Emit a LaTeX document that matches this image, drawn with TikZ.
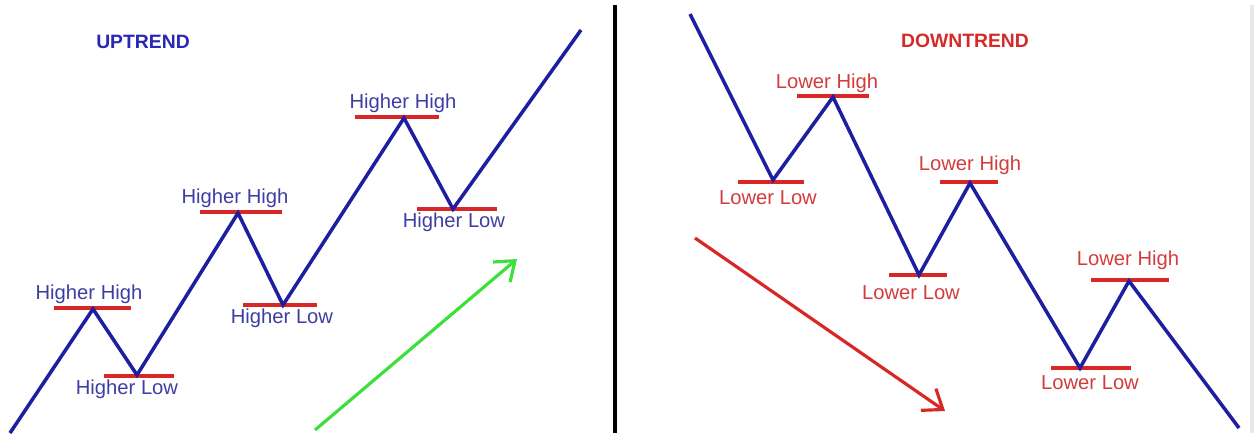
\documentclass[tikz,border=0pt]{standalone}
\usepackage{fontspec}
\setmainfont{Liberation Sans}
\usetikzlibrary{arrows.meta, positioning}

\definecolor{zigblue}{HTML}{1E1EA0}
\definecolor{levelred}{HTML}{D92626}
\definecolor{uptext}{HTML}{3E3EA2}
\definecolor{downtext}{HTML}{D23C3C}
\definecolor{titleblue}{HTML}{2828B4}
\definecolor{titlered}{HTML}{D42A2A}
\definecolor{arrowgreen}{HTML}{3BE03B}

\begin{document}
\begin{tikzpicture}[x=0.2mm, y=-0.2mm,
    zigzag/.style={draw=zigblue, line width=2pt, line join=miter},
    level/.style={draw=levelred, line width=2.3pt},
    uplabel/.style={text=uptext, font=\fontsize{11.5}{13}\selectfont, inner sep=0pt},
    downlabel/.style={text=downtext, font=\fontsize{11.5}{13}\selectfont, inner sep=0pt},
    trendtitle/.style={font=\fontsize{11}{13}\selectfont\bfseries, inner sep=0pt},
    trendarrow/.style={line width=1.8pt, -{Straight Barb[length=10pt, width=15pt, line width=1.8pt]}}]
  \useasboundingbox (0,0) rectangle (1257,433);

  % Divider and right border
  \coordinate (divtop) at (615,5);
  \coordinate (divbot) at (615,433);
  \draw[line width=2.2pt] (divtop) -- (divbot);
  \coordinate (edgetop) at (1252,5);
  \coordinate (edgebot) at (1252,433);
  \draw[gray!18, line width=2.6pt] (edgetop) -- (edgebot);

  % Titles
  \node[trendtitle, text=titleblue] (uptitle) at (143,42) {UPTREND};
  \node[trendtitle, text=titlered] (downtitle) at (965,41) {DOWNTREND};

  % Uptrend swing points
  \coordinate (u0) at (10,433);
  \coordinate (u1) at (93,309);
  \coordinate (u2) at (137,375);
  \coordinate (u3) at (238,213);
  \coordinate (u4) at (283,305);
  \coordinate (u5) at (404,118);
  \coordinate (u6) at (453,209);
  \coordinate (u7) at (581,30);

  % Uptrend levels
  \coordinate (hh1w) at (54,308);  \coordinate (hh1e) at (131,308);
  \coordinate (hl1w) at (104,376); \coordinate (hl1e) at (174,376);
  \coordinate (hh2w) at (200,212); \coordinate (hh2e) at (282,212);
  \coordinate (hl2w) at (243,305); \coordinate (hl2e) at (317,305);
  \coordinate (hh3w) at (355,117); \coordinate (hh3e) at (439,117);
  \coordinate (hl3w) at (417,209); \coordinate (hl3e) at (497,209);
  \draw[level] (hh1w) -- (hh1e);
  \draw[level] (hl1w) -- (hl1e);
  \draw[level] (hh2w) -- (hh2e);
  \draw[level] (hl2w) -- (hl2e);
  \draw[level] (hh3w) -- (hh3e);
  \draw[level] (hl3w) -- (hl3e);

  \draw[zigzag] (u0) -- (u1) -- (u2) -- (u3) -- (u4) -- (u5) -- (u6) -- (u7);

  \node[uplabel] (hh1) at (89,294) {Higher High};
  \node[uplabel] (hl1) at (127,389) {Higher Low};
  \node[uplabel] (hh2) at (235,198) {Higher High};
  \node[uplabel] (hl2) at (282,318) {Higher Low};
  \node[uplabel] (hh3) at (403,103) {Higher High};
  \node[uplabel] (hl3) at (454,222) {Higher Low};

  % Uptrend arrow
  \coordinate (greenfrom) at (315,430);
  \coordinate (greento) at (517,259);
  \draw[trendarrow, arrowgreen] (greenfrom) -- (greento);

  % Downtrend swing points
  \coordinate (d0) at (690,14);
  \coordinate (d1) at (773,180);
  \coordinate (d2) at (833,97);
  \coordinate (d3) at (919,275);
  \coordinate (d4) at (970,183);
  \coordinate (d5) at (1080,368);
  \coordinate (d6) at (1129,281);
  \coordinate (d7) at (1239,428);

  % Downtrend levels
  \coordinate (lh1w) at (797,96);   \coordinate (lh1e) at (869,96);
  \coordinate (ll1w) at (738,182);  \coordinate (ll1e) at (804,182);
  \coordinate (lh2w) at (940,182);  \coordinate (lh2e) at (998,182);
  \coordinate (ll2w) at (889,275);  \coordinate (ll2e) at (947,275);
  \coordinate (lh3w) at (1091,280); \coordinate (lh3e) at (1169,280);
  \coordinate (ll3w) at (1051,368); \coordinate (ll3e) at (1131,368);
  \draw[level] (lh1w) -- (lh1e);
  \draw[level] (ll1w) -- (ll1e);
  \draw[level] (lh2w) -- (lh2e);
  \draw[level] (ll2w) -- (ll2e);
  \draw[level] (lh3w) -- (lh3e);
  \draw[level] (ll3w) -- (ll3e);

  \draw[zigzag] (d0) -- (d1) -- (d2) -- (d3) -- (d4) -- (d5) -- (d6) -- (d7);

  \node[downlabel] (lh1) at (827,83) {Lower High};
  \node[downlabel] (ll1) at (768,198) {Lower Low};
  \node[downlabel] (lh2) at (970,165) {Lower High};
  \node[downlabel] (ll2) at (911,293) {Lower Low};
  \node[downlabel] (lh3) at (1128,260) {Lower High};
  \node[downlabel] (ll3) at (1090,383) {Lower Low};

  % Downtrend arrow
  \coordinate (redfrom) at (695,238);
  \coordinate (redto) at (945,411);
  \draw[trendarrow, levelred] (redfrom) -- (redto);
\end{tikzpicture}
\end{document}
